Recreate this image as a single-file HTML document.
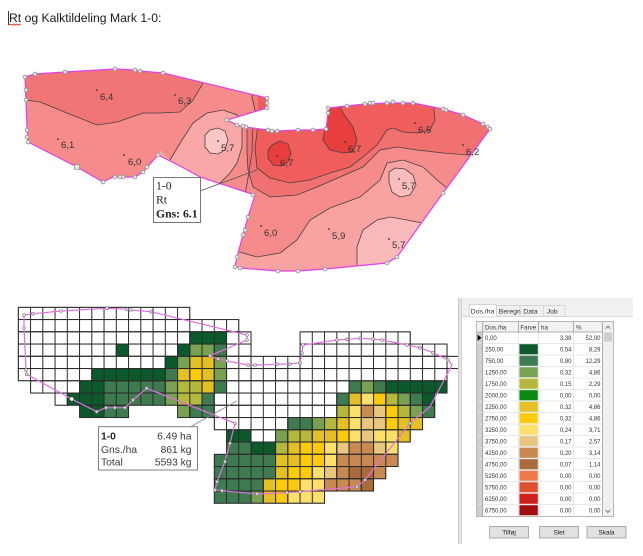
<!DOCTYPE html>
<html><head><meta charset="utf-8"><style>
html,body{margin:0;padding:0;background:#fff;width:643px;height:556px;overflow:hidden}
svg{display:block}
</style></head><body>
<svg width="643" height="556" viewBox="0 0 643 556" xmlns="http://www.w3.org/2000/svg" font-family="Liberation Sans, Arial, sans-serif">
<defs>
<clipPath id="mapclip"><polygon points="25,77 35,74 65,72 115,69 135,70 140,71 163,73 267,98 267,108 227,120 237,125 245,127 268,130 277,131 298,130 313,130 326,129 328,113 328,108 347,106 365,104 387,103 403,103 413,103 443,109 463,115 483,124 490,129 443,193 397,257 387,263 325,269 298,271 278,271 240,268 235,267 237,257 243,235 248,217 255,195 200,177 180,166 158,155 143,172 135,177 113,177 103,182 77,167 28,142 27,127 26,100"/></clipPath>
<pattern id="W" patternUnits="userSpaceOnUse" x="17.8" y="306.8" width="12.25" height="12.25"><rect width="12.25" height="12.25" fill="#ffffff"/><path d="M0 .5H12.25M.5 0V12.25" stroke="#2b2b2b"/></pattern>
<pattern id="D" patternUnits="userSpaceOnUse" x="17.8" y="306.8" width="12.25" height="12.25"><rect width="12.25" height="12.25" fill="#0c5a2c"/><path d="M0 .5H12.25M.5 0V12.25" stroke="#2b2b2b"/></pattern>
<pattern id="M" patternUnits="userSpaceOnUse" x="17.8" y="306.8" width="12.25" height="12.25"><rect width="12.25" height="12.25" fill="#3e7b50"/><path d="M0 .5H12.25M.5 0V12.25" stroke="#2b2b2b"/></pattern>
<pattern id="L" patternUnits="userSpaceOnUse" x="17.8" y="306.8" width="12.25" height="12.25"><rect width="12.25" height="12.25" fill="#78a152"/><path d="M0 .5H12.25M.5 0V12.25" stroke="#2b2b2b"/></pattern>
<pattern id="O" patternUnits="userSpaceOnUse" x="17.8" y="306.8" width="12.25" height="12.25"><rect width="12.25" height="12.25" fill="#b4b83c"/><path d="M0 .5H12.25M.5 0V12.25" stroke="#2b2b2b"/></pattern>
<pattern id="G" patternUnits="userSpaceOnUse" x="17.8" y="306.8" width="12.25" height="12.25"><rect width="12.25" height="12.25" fill="#e4c024"/><path d="M0 .5H12.25M.5 0V12.25" stroke="#2b2b2b"/></pattern>
<pattern id="Y" patternUnits="userSpaceOnUse" x="17.8" y="306.8" width="12.25" height="12.25"><rect width="12.25" height="12.25" fill="#fecb0a"/><path d="M0 .5H12.25M.5 0V12.25" stroke="#2b2b2b"/></pattern>
<pattern id="P" patternUnits="userSpaceOnUse" x="17.8" y="306.8" width="12.25" height="12.25"><rect width="12.25" height="12.25" fill="#fde06c"/><path d="M0 .5H12.25M.5 0V12.25" stroke="#2b2b2b"/></pattern>
<pattern id="T" patternUnits="userSpaceOnUse" x="17.8" y="306.8" width="12.25" height="12.25"><rect width="12.25" height="12.25" fill="#e8c67e"/><path d="M0 .5H12.25M.5 0V12.25" stroke="#2b2b2b"/></pattern>
<pattern id="B" patternUnits="userSpaceOnUse" x="17.8" y="306.8" width="12.25" height="12.25"><rect width="12.25" height="12.25" fill="#c98a52"/><path d="M0 .5H12.25M.5 0V12.25" stroke="#2b2b2b"/></pattern>
<pattern id="R" patternUnits="userSpaceOnUse" x="17.8" y="306.8" width="12.25" height="12.25"><rect width="12.25" height="12.25" fill="#a96a3c"/><path d="M0 .5H12.25M.5 0V12.25" stroke="#2b2b2b"/></pattern>
</defs>

<!-- Title -->
<text x="9" y="22" font-size="12.2" fill="#1a1a1a">Rt og Kalktildeling Mark 1-0:</text>
<line x1="8.5" y1="11" x2="8.5" y2="25" stroke="#000" stroke-width="0.8"/>
<path d="M9 25.2 l1.5 -1.2 l1.5 1.2 l1.5 -1.2 l1.5 1.2 l1.5 -1.2 l1.5 1.2 l1.5 -1.2 l1.5 1.2" stroke="#e02020" stroke-width="0.8" fill="none"/>

<!-- TOP MAP -->
<g clip-path="url(#mapclip)">
  <rect x="0" y="50" width="520" height="240" fill="#f58b8b"/>
  <polygon points="20,60 215,60 205,72 204,80 202,85 193,100 180,112 160,113 143,113 117,122 97,125 67,113 40,102 26,100 20,100" fill="#f07676"/>
  <polygon points="253,85 275,85 275,112 255,112 253,100" fill="#f27c7c"/>
  <polygon points="160,150 170,160 182,140 193,123 207,113 223,110 237,115 242,127 242,147 237,163 230,173 220,183 213,190 240,205 150,178" fill="#f9a7a7"/>
  <polygon points="205,135 210,130 218,128 225,131 228,140 225,150 218,154 210,153 205,147" fill="#fcc6c6"/>
  <polygon points="247,112 247,152 248,170 253,187 270,197 297,195 317,187 340,177 363,167 380,150 397,147 417,150 443,153 500,155 500,95 275,95 275,112" fill="#f17171"/>
  <polygon points="258,112 258,125 255,148 257,168 270,178 290,183 310,180 330,173 350,167 363,157 377,145 387,130 393,128 403,132 417,133 430,130 435,120 433,95 258,95" fill="#ef5d5d"/>
  <polygon points="272,145 280,141 288,144 291,153 288,162 281,166 273,165 268,158 268,150" fill="#e93e3e"/>
  <polygon points="322,100 325,127 323,140 330,150 343,153 353,152 357,140 353,127 343,113 337,100" fill="#e93e3e"/>
  <polygon points="225,250 237,252 257,257 280,253 297,240 310,220 330,208 360,197 380,180 387,163 403,160 423,167 437,180 447,188 470,200 470,290 225,290" fill="#f8a2a2"/>
  <polygon points="389,172 395,168 405,169 413,175 416,185 410,195 400,197 392,192 389,182" fill="#fbbcbc"/>
  <polygon points="357,290 357,263 357,247 363,230 377,220 390,217 407,220 422,223 450,235 450,290" fill="#fbbaba"/>
  <g fill="none" stroke="#4a4040" stroke-width="0.8">
    <polyline points="26,100 40,102 67,113 97,125 117,122 143,113 160,113 180,112 193,100 202,85 204,80 205,72"/>
    <polyline points="252,90 252,97 255,110 255,115"/>
    <polyline points="170,160 182,140 193,123 207,113 223,110 237,115 242,127 242,147 237,163 230,173 220,183 215,190"/>
    <polygon points="205,135 210,130 218,128 225,131 228,140 225,150 218,154 210,153 205,147"/>
    <polyline points="247,120 247,152 248,170 253,187 270,197 297,195 317,187 340,177 363,167 380,150 397,147 417,150 443,153 470,155"/>
    <polyline points="253,125 252,152 248,178 245,195"/>
    <polyline points="258,125 255,148 257,168 270,178 290,183 310,180 330,173 350,167 363,157 377,145 387,130 393,128 403,132 417,133 430,130 435,120 433,100"/>
    <polygon points="272,145 280,141 288,144 291,153 288,162 281,166 273,165 268,158 268,150"/>
    <polyline points="325,127 323,140 330,150 343,153 353,152 357,140 353,127 343,113 337,100"/>
    <polyline points="236,251 257,257 280,253 297,240 310,220 330,208 360,197 380,180 387,163 403,160 423,167 437,180 447,188 460,195"/>
    <polygon points="389,172 395,168 405,169 413,175 416,185 410,195 400,197 392,192 389,182"/>
    <polyline points="357,275 357,247 363,230 377,220 390,217 407,220 422,223 440,232"/>
  </g>
</g>
<polygon points="25,77 35,74 65,72 115,69 135,70 140,71 163,73 267,98 267,108 227,120 237,125 245,127 268,130 277,131 298,130 313,130 326,129 328,113 328,108 347,106 365,104 387,103 403,103 413,103 443,109 463,115 483,124 490,129 443,193 397,257 387,263 325,269 298,271 278,271 240,268 235,267 237,257 243,235 248,217 255,195 200,177 180,166 158,155 143,172 135,177 113,177 103,182 77,167 28,142 27,127 26,100" fill="none" stroke="#e040e8" stroke-width="1.2"/>
<g fill="#e6e6e6" stroke="#8a8a8a" stroke-width="0.7">
<circle cx="25" cy="77" r="1.9"/><circle cx="35" cy="74" r="1.9"/><circle cx="65" cy="72" r="1.9"/><circle cx="115" cy="69" r="1.9"/><circle cx="135" cy="70" r="1.9"/><circle cx="140" cy="71" r="1.9"/><circle cx="163" cy="73" r="1.9"/><circle cx="267" cy="98" r="1.9"/><circle cx="267" cy="103" r="1.9"/><circle cx="267" cy="108" r="1.9"/><circle cx="227" cy="120" r="1.9"/><circle cx="237" cy="125" r="1.9"/><circle cx="243" cy="126" r="1.9"/><circle cx="246" cy="127" r="1.9"/><circle cx="268" cy="130" r="1.9"/><circle cx="272" cy="131" r="1.9"/><circle cx="277" cy="131" r="1.9"/><circle cx="298" cy="130" r="1.9"/><circle cx="313" cy="130" r="1.9"/><circle cx="326" cy="129" r="1.9"/><circle cx="328" cy="113" r="1.9"/><circle cx="328" cy="108" r="1.9"/><circle cx="347" cy="106" r="1.9"/><circle cx="365" cy="104" r="1.9"/><circle cx="370" cy="103" r="1.9"/><circle cx="373" cy="103" r="1.9"/><circle cx="387" cy="103" r="1.9"/><circle cx="393" cy="102" r="1.9"/><circle cx="403" cy="103" r="1.9"/><circle cx="413" cy="103" r="1.9"/><circle cx="443" cy="109" r="1.9"/><circle cx="446" cy="110" r="1.9"/><circle cx="463" cy="115" r="1.9"/><circle cx="483" cy="124" r="1.9"/><circle cx="488" cy="127" r="1.9"/><circle cx="490" cy="129" r="1.9"/><circle cx="443" cy="193" r="1.9"/><circle cx="397" cy="257" r="1.9"/><circle cx="387" cy="263" r="1.9"/><circle cx="325" cy="269" r="1.9"/><circle cx="298" cy="271" r="1.9"/><circle cx="278" cy="271" r="1.9"/><circle cx="240" cy="268" r="1.9"/><circle cx="235" cy="267" r="1.9"/><circle cx="237" cy="257" r="1.9"/><circle cx="243" cy="235" r="1.9"/><circle cx="245" cy="230" r="1.9"/><circle cx="248" cy="217" r="1.9"/><circle cx="253" cy="195" r="1.9"/><circle cx="158" cy="155" r="1.9"/><circle cx="147" cy="167" r="1.9"/><circle cx="143" cy="172" r="1.9"/><circle cx="135" cy="177" r="1.9"/><circle cx="123" cy="177" r="1.9"/><circle cx="120" cy="177" r="1.9"/><circle cx="115" cy="177" r="1.9"/><circle cx="103" cy="182" r="1.9"/><circle cx="28" cy="142" r="1.9"/><circle cx="27" cy="137" r="1.9"/><circle cx="27" cy="130" r="1.9"/><circle cx="26" cy="100" r="1.9"/><circle cx="26" cy="90" r="1.9"/>
<rect x="74.5" y="164.5" width="5" height="5"/>
</g>
<g font-size="9.6" fill="#333">
<circle cx="97" cy="90" r="0.9"/><text x="100" y="100">6,4</text>
<circle cx="175" cy="95" r="0.9"/><text x="178" y="104">6,3</text>
<circle cx="58" cy="139" r="0.9"/><text x="61" y="148">6,1</text>
<circle cx="124" cy="155" r="0.9"/><text x="128" y="165">6,0</text>
<circle cx="218" cy="141" r="0.9"/><text x="221" y="151">5,7</text>
<circle cx="277" cy="156" r="0.9"/><text x="280" y="166">6,7</text>
<circle cx="345" cy="142" r="0.9"/><text x="348" y="152">6,7</text>
<circle cx="415" cy="123" r="0.9"/><text x="418" y="133">6,5</text>
<circle cx="463" cy="145" r="0.9"/><text x="466" y="155">6,2</text>
<circle cx="399" cy="179" r="0.9"/><text x="402" y="189">5,7</text>
<circle cx="261" cy="226" r="0.9"/><text x="264" y="236">6,0</text>
<circle cx="329" cy="229" r="0.9"/><text x="332" y="239">5,9</text>
<circle cx="389" cy="239" r="0.9"/><text x="392" y="248">5,7</text>
</g>
<line x1="200" y1="191" x2="257" y2="170" stroke="#555" stroke-width="0.8"/>
<rect x="153.5" y="177.5" width="47" height="45" fill="#fff" stroke="#777" stroke-width="1"/>
<g font-family="Liberation Serif, serif" font-size="11.7" fill="#222">
<text x="156" y="189.5">1-0</text>
<text x="156" y="203.5">Rt</text>
<text x="156" y="217.5" font-weight="bold">Gns: 6.1</text>
</g>

<!-- GRID -->
<g stroke="#2b2b2b" stroke-width="1">
<rect x="18.3" y="307.3" width="171.5" height="12.25" fill="url(#W)"/>
<rect x="18.3" y="319.55" width="220.5" height="12.25" fill="url(#W)"/>
<rect x="18.3" y="331.8" width="171.5" height="12.25" fill="url(#W)"/>
<rect x="189.8" y="331.8" width="36.75" height="12.25" fill="url(#D)"/>
<rect x="226.55" y="331.8" width="24.5" height="12.25" fill="url(#W)"/>
<rect x="300.05" y="331.8" width="110.25" height="12.25" fill="url(#W)"/>
<rect x="18.3" y="344.05" width="98" height="12.25" fill="url(#W)"/>
<rect x="116.3" y="344.05" width="12.25" height="12.25" fill="url(#D)"/>
<rect x="128.55" y="344.05" width="49" height="12.25" fill="url(#W)"/>
<rect x="177.55" y="344.05" width="12.25" height="12.25" fill="url(#D)"/>
<rect x="189.8" y="344.05" width="24.5" height="12.25" fill="url(#L)"/>
<rect x="214.3" y="344.05" width="12.25" height="12.25" fill="url(#M)"/>
<rect x="226.55" y="344.05" width="24.5" height="12.25" fill="url(#W)"/>
<rect x="300.05" y="344.05" width="147" height="12.25" fill="url(#W)"/>
<rect x="18.3" y="356.3" width="147" height="12.25" fill="url(#W)"/>
<rect x="165.3" y="356.3" width="12.25" height="12.25" fill="url(#D)"/>
<rect x="177.55" y="356.3" width="12.25" height="12.25" fill="url(#L)"/>
<rect x="189.8" y="356.3" width="24.5" height="12.25" fill="url(#G)"/>
<rect x="214.3" y="356.3" width="12.25" height="12.25" fill="url(#L)"/>
<rect x="226.55" y="356.3" width="232.75" height="12.25" fill="url(#W)"/>
<rect x="18.3" y="368.55" width="73.5" height="12.25" fill="url(#W)"/>
<rect x="91.8" y="368.55" width="73.5" height="12.25" fill="url(#D)"/>
<rect x="165.3" y="368.55" width="12.25" height="12.25" fill="url(#M)"/>
<rect x="177.55" y="368.55" width="12.25" height="12.25" fill="url(#G)"/>
<rect x="189.8" y="368.55" width="12.25" height="12.25" fill="url(#Y)"/>
<rect x="202.05" y="368.55" width="12.25" height="12.25" fill="url(#G)"/>
<rect x="214.3" y="368.55" width="12.25" height="12.25" fill="url(#L)"/>
<rect x="226.55" y="368.55" width="220.5" height="12.25" fill="url(#W)"/>
<rect x="30.55" y="380.8" width="49" height="12.25" fill="url(#W)"/>
<rect x="79.55" y="380.8" width="24.5" height="12.25" fill="url(#D)"/>
<rect x="104.05" y="380.8" width="61.25" height="12.25" fill="url(#M)"/>
<rect x="165.3" y="380.8" width="12.25" height="12.25" fill="url(#L)"/>
<rect x="177.55" y="380.8" width="24.5" height="12.25" fill="url(#O)"/>
<rect x="202.05" y="380.8" width="12.25" height="12.25" fill="url(#G)"/>
<rect x="214.3" y="380.8" width="12.25" height="12.25" fill="url(#M)"/>
<rect x="226.55" y="380.8" width="122.5" height="12.25" fill="url(#W)"/>
<rect x="349.05" y="380.8" width="12.25" height="12.25" fill="url(#M)"/>
<rect x="361.3" y="380.8" width="12.25" height="12.25" fill="url(#L)"/>
<rect x="373.55" y="380.8" width="12.25" height="12.25" fill="url(#M)"/>
<rect x="385.8" y="380.8" width="61.25" height="12.25" fill="url(#D)"/>
<rect x="55.05" y="393.05" width="12.25" height="12.25" fill="url(#W)"/>
<rect x="67.3" y="393.05" width="36.75" height="12.25" fill="url(#D)"/>
<rect x="104.05" y="393.05" width="61.25" height="12.25" fill="url(#M)"/>
<rect x="165.3" y="393.05" width="12.25" height="12.25" fill="url(#L)"/>
<rect x="177.55" y="393.05" width="24.5" height="12.25" fill="url(#O)"/>
<rect x="202.05" y="393.05" width="12.25" height="12.25" fill="url(#M)"/>
<rect x="214.3" y="393.05" width="122.5" height="12.25" fill="url(#W)"/>
<rect x="336.8" y="393.05" width="12.25" height="12.25" fill="url(#M)"/>
<rect x="349.05" y="393.05" width="12.25" height="12.25" fill="url(#G)"/>
<rect x="361.3" y="393.05" width="12.25" height="12.25" fill="url(#P)"/>
<rect x="373.55" y="393.05" width="12.25" height="12.25" fill="url(#Y)"/>
<rect x="385.8" y="393.05" width="12.25" height="12.25" fill="url(#O)"/>
<rect x="398.05" y="393.05" width="12.25" height="12.25" fill="url(#L)"/>
<rect x="410.3" y="393.05" width="12.25" height="12.25" fill="url(#M)"/>
<rect x="422.55" y="393.05" width="12.25" height="12.25" fill="url(#D)"/>
<rect x="79.55" y="405.3" width="24.5" height="12.25" fill="url(#D)"/>
<rect x="104.05" y="405.3" width="24.5" height="12.25" fill="url(#M)"/>
<rect x="177.55" y="405.3" width="12.25" height="12.25" fill="url(#L)"/>
<rect x="189.8" y="405.3" width="24.5" height="12.25" fill="url(#M)"/>
<rect x="214.3" y="405.3" width="122.5" height="12.25" fill="url(#W)"/>
<rect x="336.8" y="405.3" width="12.25" height="12.25" fill="url(#O)"/>
<rect x="349.05" y="405.3" width="12.25" height="12.25" fill="url(#P)"/>
<rect x="361.3" y="405.3" width="12.25" height="12.25" fill="url(#B)"/>
<rect x="373.55" y="405.3" width="12.25" height="12.25" fill="url(#T)"/>
<rect x="385.8" y="405.3" width="12.25" height="12.25" fill="url(#Y)"/>
<rect x="398.05" y="405.3" width="12.25" height="12.25" fill="url(#O)"/>
<rect x="410.3" y="405.3" width="12.25" height="12.25" fill="url(#L)"/>
<rect x="422.55" y="405.3" width="12.25" height="12.25" fill="url(#M)"/>
<rect x="214.3" y="417.55" width="73.5" height="12.25" fill="url(#W)"/>
<rect x="287.8" y="417.55" width="24.5" height="12.25" fill="url(#M)"/>
<rect x="312.3" y="417.55" width="12.25" height="12.25" fill="url(#L)"/>
<rect x="324.55" y="417.55" width="12.25" height="12.25" fill="url(#O)"/>
<rect x="336.8" y="417.55" width="12.25" height="12.25" fill="url(#G)"/>
<rect x="349.05" y="417.55" width="12.25" height="12.25" fill="url(#P)"/>
<rect x="361.3" y="417.55" width="24.5" height="12.25" fill="url(#T)"/>
<rect x="385.8" y="417.55" width="12.25" height="12.25" fill="url(#Y)"/>
<rect x="398.05" y="417.55" width="24.5" height="12.25" fill="url(#G)"/>
<rect x="226.55" y="429.8" width="24.5" height="12.25" fill="url(#D)"/>
<rect x="251.05" y="429.8" width="24.5" height="12.25" fill="url(#W)"/>
<rect x="275.55" y="429.8" width="12.25" height="12.25" fill="url(#L)"/>
<rect x="287.8" y="429.8" width="24.5" height="12.25" fill="url(#O)"/>
<rect x="312.3" y="429.8" width="24.5" height="12.25" fill="url(#G)"/>
<rect x="336.8" y="429.8" width="12.25" height="12.25" fill="url(#Y)"/>
<rect x="349.05" y="429.8" width="12.25" height="12.25" fill="url(#P)"/>
<rect x="361.3" y="429.8" width="12.25" height="12.25" fill="url(#T)"/>
<rect x="373.55" y="429.8" width="24.5" height="12.25" fill="url(#P)"/>
<rect x="398.05" y="429.8" width="12.25" height="12.25" fill="url(#G)"/>
<rect x="226.55" y="442.05" width="24.5" height="12.25" fill="url(#M)"/>
<rect x="251.05" y="442.05" width="24.5" height="12.25" fill="url(#D)"/>
<rect x="275.55" y="442.05" width="12.25" height="12.25" fill="url(#O)"/>
<rect x="287.8" y="442.05" width="12.25" height="12.25" fill="url(#G)"/>
<rect x="300.05" y="442.05" width="24.5" height="12.25" fill="url(#Y)"/>
<rect x="324.55" y="442.05" width="12.25" height="12.25" fill="url(#P)"/>
<rect x="336.8" y="442.05" width="12.25" height="12.25" fill="url(#T)"/>
<rect x="349.05" y="442.05" width="24.5" height="12.25" fill="url(#B)"/>
<rect x="373.55" y="442.05" width="12.25" height="12.25" fill="url(#T)"/>
<rect x="385.8" y="442.05" width="12.25" height="12.25" fill="url(#P)"/>
<rect x="214.3" y="454.3" width="61.25" height="12.25" fill="url(#M)"/>
<rect x="275.55" y="454.3" width="24.5" height="12.25" fill="url(#G)"/>
<rect x="300.05" y="454.3" width="24.5" height="12.25" fill="url(#Y)"/>
<rect x="324.55" y="454.3" width="12.25" height="12.25" fill="url(#P)"/>
<rect x="336.8" y="454.3" width="61.25" height="12.25" fill="url(#B)"/>
<rect x="214.3" y="466.55" width="61.25" height="12.25" fill="url(#M)"/>
<rect x="275.55" y="466.55" width="12.25" height="12.25" fill="url(#G)"/>
<rect x="287.8" y="466.55" width="24.5" height="12.25" fill="url(#Y)"/>
<rect x="312.3" y="466.55" width="12.25" height="12.25" fill="url(#P)"/>
<rect x="324.55" y="466.55" width="12.25" height="12.25" fill="url(#T)"/>
<rect x="336.8" y="466.55" width="12.25" height="12.25" fill="url(#B)"/>
<rect x="349.05" y="466.55" width="24.5" height="12.25" fill="url(#R)"/>
<rect x="373.55" y="466.55" width="12.25" height="12.25" fill="url(#B)"/>
<rect x="214.3" y="478.8" width="49" height="12.25" fill="url(#M)"/>
<rect x="263.3" y="478.8" width="12.25" height="12.25" fill="url(#G)"/>
<rect x="275.55" y="478.8" width="24.5" height="12.25" fill="url(#Y)"/>
<rect x="300.05" y="478.8" width="24.5" height="12.25" fill="url(#P)"/>
<rect x="324.55" y="478.8" width="36.75" height="12.25" fill="url(#B)"/>
<rect x="361.3" y="478.8" width="12.25" height="12.25" fill="url(#R)"/>
<rect x="214.3" y="491.05" width="36.75" height="12.25" fill="url(#M)"/>
<rect x="251.05" y="491.05" width="12.25" height="12.25" fill="url(#L)"/>
<rect x="263.3" y="491.05" width="12.25" height="12.25" fill="url(#G)"/>
<rect x="275.55" y="491.05" width="12.25" height="12.25" fill="url(#Y)"/>
<rect x="287.8" y="491.05" width="36.75" height="12.25" fill="url(#P)"/>
</g>
<polygon points="24,315 33,313.7 61,311 107,308.3 127,309.3 131,310 151,311.7 247,335 247,340 210,355.7 218,359 227,361 248,365 255,365 277,364.3 290,364 300,362.7 302,353 303,345 337,340 347,339.3 360,338.3 373,339 382,340 407,345 420,347.7 433,352.7 448,360 452,365 430,406.7 410,423.3 365,480 357,486.7 300,491.7 287,492.7 275,493.3 257,494 222,490.7 215,490 217,481.7 225,461.7 230,443.3 235,423.3 146.7,388.3 133,400 125,407.7 115,407.7 106,407.7 96.7,411.7 71.7,399 26.7,374.3 26,370 24,328" fill="none" stroke="#e070e0" stroke-width="1.2"/>
<g fill="#d8d8d8" stroke="#808080" stroke-width="0.6">
<circle cx="24" cy="315" r="1.5"/><circle cx="33" cy="313.7" r="1.5"/><circle cx="61" cy="311" r="1.5"/><circle cx="107" cy="308.3" r="1.5"/><circle cx="127" cy="309.3" r="1.5"/><circle cx="131" cy="310" r="1.5"/><circle cx="151" cy="311.7" r="1.5"/><circle cx="247" cy="335" r="1.5"/><circle cx="247" cy="340" r="1.5"/><circle cx="210" cy="355.7" r="1.5"/><circle cx="218" cy="359" r="1.5"/><circle cx="227" cy="361" r="1.5"/><circle cx="248" cy="365" r="1.5"/><circle cx="255" cy="365" r="1.5"/><circle cx="277" cy="364.3" r="1.5"/><circle cx="290" cy="364" r="1.5"/><circle cx="300" cy="362.7" r="1.5"/><circle cx="302" cy="353" r="1.5"/><circle cx="303" cy="345" r="1.5"/><circle cx="337" cy="340" r="1.5"/><circle cx="347" cy="339.3" r="1.5"/><circle cx="360" cy="338.3" r="1.5"/><circle cx="373" cy="339" r="1.5"/><circle cx="382" cy="340" r="1.5"/><circle cx="407" cy="345" r="1.5"/><circle cx="420" cy="347.7" r="1.5"/><circle cx="433" cy="352.7" r="1.5"/><circle cx="448" cy="360" r="1.5"/><circle cx="410" cy="423.3" r="1.5"/><circle cx="365" cy="480" r="1.5"/><circle cx="357" cy="486.7" r="1.5"/><circle cx="300" cy="491.7" r="1.5"/><circle cx="287" cy="492.7" r="1.5"/><circle cx="257" cy="494" r="1.5"/><circle cx="222" cy="490.7" r="1.5"/><circle cx="215" cy="490" r="1.5"/><circle cx="217" cy="481.7" r="1.5"/><circle cx="225" cy="461.7" r="1.5"/><circle cx="230" cy="443.3" r="1.5"/><circle cx="235" cy="423.3" r="1.5"/><circle cx="146.7" cy="388.3" r="1.5"/><circle cx="133" cy="400" r="1.5"/><circle cx="125" cy="407.7" r="1.5"/><circle cx="115" cy="407.7" r="1.5"/><circle cx="106" cy="407.7" r="1.5"/><circle cx="96.7" cy="411.7" r="1.5"/><circle cx="26.7" cy="374.3" r="1.5"/><circle cx="26" cy="370" r="1.5"/><circle cx="24" cy="328" r="1.5"/>
<circle cx="71.7" cy="399" r="1.9" fill="#fff"/>
</g>
<line x1="190" y1="427" x2="237" y2="401" stroke="#888" stroke-width="0.8"/>
<rect x="98.5" y="426.7" width="99" height="43.3" fill="#fff" stroke="#808080" stroke-width="1"/>
<g font-size="10.3" fill="#3a3a3a">
<text x="101" y="439.5" font-weight="bold" fill="#222">1-0</text>
<text x="191.5" y="439.5" text-anchor="end">6.49 ha</text>
<text x="101" y="452.8">Gns./ha</text>
<text x="191.5" y="452.8" text-anchor="end">861 kg</text>
<text x="101" y="465.5">Total</text>
<text x="191.5" y="465.5" text-anchor="end">5593 kg</text>
</g>

<!-- RIGHT PANEL -->
<rect x="458" y="298" width="4" height="246" fill="#e4e4e4"/>
<line x1="458.5" y1="298" x2="458.5" y2="544" stroke="#c8c8c8" stroke-width="1"/>
<line x1="461.5" y1="298" x2="461.5" y2="544" stroke="#d2d2d2" stroke-width="1"/>
<rect x="462" y="298" width="171" height="18.5" fill="#f0f0f0"/>
<line x1="462" y1="316.5" x2="633" y2="316.5" stroke="#dadada" stroke-width="1"/>
<g stroke="#d4d4d4" stroke-width="1" fill="#f0f0f0">
<rect x="496.5" y="305.5" width="23.5" height="11"/>
<rect x="520" y="305.5" width="23.3" height="11"/>
<rect x="543.3" y="305.5" width="21.7" height="11"/>
<rect x="469.3" y="304.5" width="27.2" height="12.5" fill="#fff"/>
</g>
<g font-size="6.8" fill="#333">
<text x="470.8" y="313.4">Dos./ha</text>
<text x="498.8" y="313.6">Beregn</text>
<text x="523.3" y="313.6">Data</text>
<text x="546.7" y="313.6">Job</text>
</g>
<rect x="476.5" y="321.5" width="137" height="195" fill="#fff" stroke="#b8b8b8" stroke-width="1"/>
<rect x="477" y="322" width="125.5" height="10" fill="#f2f2f2"/>
<rect x="477" y="332" width="5.7" height="184" fill="#cfcfcf"/>
<g stroke="#e2e2e2" stroke-width="0.8">
<line x1="477" y1="332" x2="602.5" y2="332"/><line x1="477" y1="343.5" x2="602.5" y2="343.5"/><line x1="477" y1="355" x2="602.5" y2="355"/><line x1="477" y1="366.5" x2="602.5" y2="366.5"/><line x1="477" y1="378" x2="602.5" y2="378"/><line x1="477" y1="389.5" x2="602.5" y2="389.5"/><line x1="477" y1="401" x2="602.5" y2="401"/><line x1="477" y1="412.5" x2="602.5" y2="412.5"/><line x1="477" y1="424" x2="602.5" y2="424"/><line x1="477" y1="435.5" x2="602.5" y2="435.5"/><line x1="477" y1="447" x2="602.5" y2="447"/><line x1="477" y1="458.5" x2="602.5" y2="458.5"/><line x1="477" y1="470" x2="602.5" y2="470"/><line x1="477" y1="481.5" x2="602.5" y2="481.5"/><line x1="477" y1="493" x2="602.5" y2="493"/><line x1="477" y1="504.5" x2="602.5" y2="504.5"/>
<line x1="518.5" y1="332" x2="518.5" y2="516"/><line x1="538.5" y1="332" x2="538.5" y2="516"/><line x1="573.3" y1="332" x2="573.3" y2="516"/>
</g>
<g stroke="#9a9a9a" stroke-width="0.8">
<line x1="482.7" y1="322" x2="482.7" y2="516"/><line x1="518.5" y1="322" x2="518.5" y2="332"/><line x1="538.5" y1="322" x2="538.5" y2="332"/><line x1="573.3" y1="322" x2="573.3" y2="332"/><line x1="602.5" y1="322" x2="602.5" y2="516"/>
<line x1="477" y1="332" x2="602.5" y2="332"/>
</g>
<polygon points="477.6,334.6 477.6,341 481.4,337.8" fill="#000"/>
<g font-size="6.2" fill="#333">
<text x="485" y="329.6">Dos./ha</text><text x="520.4" y="329.6">Farve</text><text x="541" y="329.6">ha</text><text x="576" y="329.6">%</text>
</g>
<g>
<rect x="519.4" y="344.2" width="18.4" height="10.1" fill="#0c5a2c"/>
<rect x="519.4" y="355.7" width="18.4" height="10.1" fill="#3e7b50"/>
<rect x="519.4" y="367.2" width="18.4" height="10.1" fill="#78a152"/>
<rect x="519.4" y="378.7" width="18.4" height="10.1" fill="#b4b83c"/>
<rect x="519.4" y="390.2" width="18.4" height="10.1" fill="#0a8a14"/>
<rect x="519.4" y="401.7" width="18.4" height="10.1" fill="#e4c024"/>
<rect x="519.4" y="413.2" width="18.4" height="10.1" fill="#fecb0a"/>
<rect x="519.4" y="424.7" width="18.4" height="10.1" fill="#fde06c"/>
<rect x="519.4" y="436.2" width="18.4" height="10.1" fill="#e8c67e"/>
<rect x="519.4" y="447.7" width="18.4" height="10.1" fill="#c98a52"/>
<rect x="519.4" y="459.2" width="18.4" height="10.1" fill="#a96a3c"/>
<rect x="519.4" y="470.7" width="18.4" height="10.1" fill="#f07a4a"/>
<rect x="519.4" y="482.2" width="18.4" height="10.1" fill="#e0502e"/>
<rect x="519.4" y="493.7" width="18.4" height="10.1" fill="#d0201e"/>
<rect x="519.4" y="505.2" width="18.4" height="10.1" fill="#a00e10"/>
</g>
<g font-size="6" fill="#333">
<text x="485" y="340">0,00</text><text x="571.5" y="340" text-anchor="end">3,38</text><text x="600.5" y="340" text-anchor="end">52,00</text>
<text x="485" y="351.5">250,00</text><text x="571.5" y="351.5" text-anchor="end">0,54</text><text x="600.5" y="351.5" text-anchor="end">8,29</text>
<text x="485" y="363">750,00</text><text x="571.5" y="363" text-anchor="end">0,80</text><text x="600.5" y="363" text-anchor="end">12,29</text>
<text x="485" y="374.5">1250,00</text><text x="571.5" y="374.5" text-anchor="end">0,32</text><text x="600.5" y="374.5" text-anchor="end">4,86</text>
<text x="485" y="386">1750,00</text><text x="571.5" y="386" text-anchor="end">0,15</text><text x="600.5" y="386" text-anchor="end">2,29</text>
<text x="485" y="397.5">2000,00</text><text x="571.5" y="397.5" text-anchor="end">0,00</text><text x="600.5" y="397.5" text-anchor="end">0,00</text>
<text x="485" y="409">2250,00</text><text x="571.5" y="409" text-anchor="end">0,32</text><text x="600.5" y="409" text-anchor="end">4,86</text>
<text x="485" y="420.5">2750,00</text><text x="571.5" y="420.5" text-anchor="end">0,32</text><text x="600.5" y="420.5" text-anchor="end">4,86</text>
<text x="485" y="432">3250,00</text><text x="571.5" y="432" text-anchor="end">0,24</text><text x="600.5" y="432" text-anchor="end">3,71</text>
<text x="485" y="443.5">3750,00</text><text x="571.5" y="443.5" text-anchor="end">0,17</text><text x="600.5" y="443.5" text-anchor="end">2,57</text>
<text x="485" y="455">4250,00</text><text x="571.5" y="455" text-anchor="end">0,20</text><text x="600.5" y="455" text-anchor="end">3,14</text>
<text x="485" y="466.5">4750,00</text><text x="571.5" y="466.5" text-anchor="end">0,07</text><text x="600.5" y="466.5" text-anchor="end">1,14</text>
<text x="485" y="478">5250,00</text><text x="571.5" y="478" text-anchor="end">0,00</text><text x="600.5" y="478" text-anchor="end">0,00</text>
<text x="485" y="489.5">5750,00</text><text x="571.5" y="489.5" text-anchor="end">0,00</text><text x="600.5" y="489.5" text-anchor="end">0,00</text>
<text x="485" y="501">6250,00</text><text x="571.5" y="501" text-anchor="end">0,00</text><text x="600.5" y="501" text-anchor="end">0,00</text>
<text x="485" y="512.5">6750,00</text><text x="571.5" y="512.5" text-anchor="end">0,00</text><text x="600.5" y="512.5" text-anchor="end">0,00</text>
</g>
<rect x="603" y="322" width="10" height="194" fill="#f0f0f0"/>
<rect x="604" y="332.5" width="8" height="9" fill="#cdcdcd"/>
<path d="M605.6 328.6 L607.9 326.2 L610.2 328.6" stroke="#555" stroke-width="0.8" fill="none"/>
<path d="M605.6 510 L607.9 512.4 L610.2 510" stroke="#555" stroke-width="0.8" fill="none"/>
<g fill="#e1e1e1" stroke="#adadad" stroke-width="1">
<rect x="489.5" y="526.5" width="39" height="11.5"/>
<rect x="539.5" y="526.5" width="39" height="11.5"/>
<rect x="587" y="526.5" width="39" height="11.5"/>
</g>
<g font-size="6.4" fill="#222" text-anchor="middle">
<text x="509" y="534.5">Tilføj</text>
<text x="559" y="534.5">Slet</text>
<text x="606.5" y="534.5">Skala</text>
</g>
</svg>
</body></html>
